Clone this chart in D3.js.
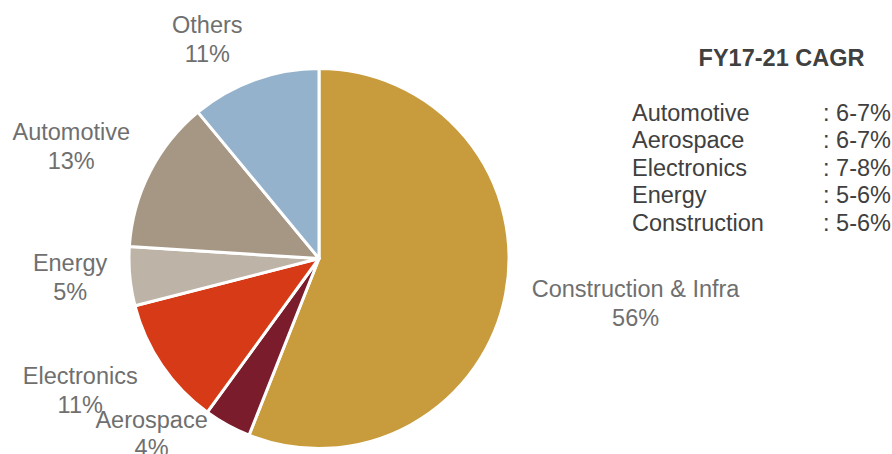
<!DOCTYPE html>
<html>
<head>
<meta charset="utf-8">
<script src="https://cdn.jsdelivr.net/npm/d3@7"></script>
<style>
  html, body { margin: 0; padding: 0; background: #fff; }
  svg { display: block; font-family: "Liberation Sans", Arial, sans-serif; }
</style>
</head>
<body>
<svg id="chart" width="892" height="454"></svg>
<script>
// Market share by end-use segment (clockwise from 12 o'clock)
const segments = ["Construction & Infra", "Aerospace", "Electronics", "Energy", "Automotive", "Others"];
const shares = [56, 4, 11, 5, 13, 11];
const segmentColors = ["#C89B3C", "#7A1C2B", "#D63A16", "#BDB4A7", "#A69684", "#95B2CC"];

// Growth outlook table
const cagrTitle = "FY17-21 CAGR";
const cagrSegments = ["Automotive", "Aerospace", "Electronics", "Energy", "Construction"];
const cagrRanges = ["6-7%", "6-7%", "7-8%", "5-6%", "5-6%"];

// Label placement: shift from the slice centroid on the label ring
const labelShift = {
  "Construction & Infra": [71, -8],
  "Aerospace": [-47, -50],
  "Electronics": [-32, -15],
  "Energy": [0, -11],
  "Automotive": [-25, -5],
  "Others": [-27, 10]
};

const svg = d3.select("#chart");
const cx = 319, cy = 258.5, radius = 190, labelRadius = 250;

const pie = d3.pie().sort(null).value(d => d.value);
const data = pie(segments.map((name, i) => ({ name, value: shares[i], color: segmentColors[i] })));

const arc = d3.arc().innerRadius(0).outerRadius(radius);
const labelArc = d3.arc().innerRadius(labelRadius).outerRadius(labelRadius);

const g = svg.append("g").attr("transform", `translate(${cx},${cy})`);

g.selectAll("path.slice")
  .data(data)
  .join("path")
  .attr("class", "slice")
  .attr("d", arc)
  .attr("fill", d => d.data.color)
  .attr("stroke", "#ffffff")
  .attr("stroke-width", 3)
  .attr("stroke-linejoin", "round");

const labels = g.selectAll("text.label")
  .data(data)
  .join("text")
  .attr("class", "label")
  .attr("text-anchor", "middle")
  .attr("fill", "#6F6F6F")
  .attr("font-size", "23.5px")
  .attr("transform", d => {
    const [x, y] = labelArc.centroid(d);
    const [dx, dy] = labelShift[d.data.name];
    return `translate(${x + dx},${y + dy})`;
  });

labels.append("tspan").attr("x", 0).attr("y", 0).text(d => d.data.name);
labels.append("tspan").attr("x", 0).attr("y", 28.5).text(d => d.data.value + "%");

// CAGR table
const table = svg.append("g");
table.append("text")
  .attr("x", 781.5).attr("y", 66)
  .attr("text-anchor", "middle")
  .attr("font-size", "23.5px")
  .attr("font-weight", "bold")
  .attr("fill", "#404040")
  .text(cagrTitle);

const rowY = d3.scalePoint().domain(cagrSegments).range([120.7, 230.7]);

table.selectAll("text.seg")
  .data(cagrSegments)
  .join("text")
  .attr("class", "seg")
  .attr("x", 632)
  .attr("y", d => rowY(d))
  .attr("font-size", "23.5px")
  .attr("fill", "#404040")
  .text(d => d);

table.selectAll("text.rng")
  .data(cagrSegments)
  .join("text")
  .attr("class", "rng")
  .attr("x", 823)
  .attr("y", d => rowY(d))
  .attr("font-size", "23.5px")
  .attr("fill", "#404040")
  .attr("xml:space", "preserve")
  .text((d, i) => ": " + cagrRanges[i]);
</script>
</body>
</html>
